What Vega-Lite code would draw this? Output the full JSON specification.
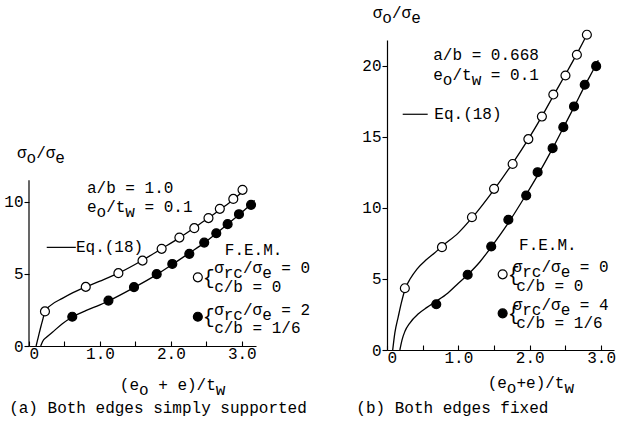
{
  "$schema": "https://vega.github.io/schema/vega-lite/v6.json",
  "padding": {"left": 3, "top": 5, "right": 5, "bottom": 3},
  "background": "white",
  "spacing": 131,
  "bounds": "flush",
  "config": {
    "view": {"stroke": null},
    "font": "Liberation Mono",
    "axis": {"labelFont": "Liberation Mono", "labelFontSize": 16, "labelColor": "black", "domainColor": "black", "tickColor": "black", "grid": false, "domainWidth": 1.2, "tickWidth": 1.1}
  },
  "datasets": {
    "curveL": [
      {"series": "open", "x": 0.10, "y": 0}, {"series": "open", "x": 0.13, "y": 0.6}, {"series": "open", "x": 0.165, "y": 1.3}, {"series": "open", "x": 0.2, "y": 1.95}, {"series": "open", "x": 0.225, "y": 2.4}, {"series": "open", "x": 0.3, "y": 2.8}, {"series": "open", "x": 0.47, "y": 3.3}, {"series": "open", "x": 0.62, "y": 3.7}, {"series": "open", "x": 0.8, "y": 4.1}, {"series": "open", "x": 1.0, "y": 4.5}, {"series": "open", "x": 1.26, "y": 5.05}, {"series": "open", "x": 1.6, "y": 5.95}, {"series": "open", "x": 1.87, "y": 6.75}, {"series": "open", "x": 2.12, "y": 7.5}, {"series": "open", "x": 2.33, "y": 8.2}, {"series": "open", "x": 2.53, "y": 8.87}, {"series": "open", "x": 2.69, "y": 9.45}, {"series": "open", "x": 2.88, "y": 10.15}, {"series": "open", "x": 3.02, "y": 10.75},
      {"series": "filled", "x": 0.165, "y": 0}, {"series": "filled", "x": 0.19, "y": 0.3}, {"series": "filled", "x": 0.25, "y": 0.62}, {"series": "filled", "x": 0.33, "y": 0.95}, {"series": "filled", "x": 0.47, "y": 1.55}, {"series": "filled", "x": 0.62, "y": 2.03}, {"series": "filled", "x": 0.8, "y": 2.45}, {"series": "filled", "x": 1.0, "y": 2.85}, {"series": "filled", "x": 1.12, "y": 3.12}, {"series": "filled", "x": 1.48, "y": 4.05}, {"series": "filled", "x": 1.8, "y": 4.95}, {"series": "filled", "x": 2.02, "y": 5.65}, {"series": "filled", "x": 2.26, "y": 6.45}, {"series": "filled", "x": 2.47, "y": 7.15}, {"series": "filled", "x": 2.64, "y": 7.8}, {"series": "filled", "x": 2.8, "y": 8.45}, {"series": "filled", "x": 2.96, "y": 9.1}, {"series": "filled", "x": 3.13, "y": 9.85}, {"series": "filled", "x": 3.18, "y": 10.1}
    ],
    "pointsL": [
      {"series": "open", "x": 0.225, "y": 2.4}, {"series": "open", "x": 0.80, "y": 4.1}, {"series": "open", "x": 1.26, "y": 5.05}, {"series": "open", "x": 1.60, "y": 5.92}, {"series": "open", "x": 1.87, "y": 6.74}, {"series": "open", "x": 2.12, "y": 7.52}, {"series": "open", "x": 2.33, "y": 8.17}, {"series": "open", "x": 2.53, "y": 8.87}, {"series": "open", "x": 2.69, "y": 9.51}, {"series": "open", "x": 2.88, "y": 10.2}, {"series": "open", "x": 3.01, "y": 10.83},
      {"series": "filled", "x": 0.61, "y": 2.03}, {"series": "filled", "x": 1.12, "y": 3.15}, {"series": "filled", "x": 1.48, "y": 4.08}, {"series": "filled", "x": 1.80, "y": 4.98}, {"series": "filled", "x": 2.02, "y": 5.69}, {"series": "filled", "x": 2.26, "y": 6.39}, {"series": "filled", "x": 2.47, "y": 7.17}, {"series": "filled", "x": 2.64, "y": 7.82}, {"series": "filled", "x": 2.80, "y": 8.45}, {"series": "filled", "x": 2.96, "y": 9.14}, {"series": "filled", "x": 3.13, "y": 9.79}
    ],
    "legendL": [{"series": "open", "x": 2.38, "y": 4.76}, {"series": "filled", "x": 2.38, "y": 2.03}],
    "braceL": [{"x": 2.45, "y": 4.75}, {"x": 2.45, "y": 2.0}],
    "eqL": [{"x": 0.25, "x2": 0.66, "y": 6.84}],
    "axisL": [{"x": 0, "y": 0, "y2": 11.5}],
    "textL": [
      {"x": 0.817, "y": 10.94, "main": "a/b\u00a0=\u00a01.0", "sub": ""},
      {"x": 0.817, "y": 9.62, "main": "e\u00a0/t\u00a0\u00a0=\u00a00.1", "sub": "\u200b\u00a0o\u00a0\u00a0w"},
      {"x": 0.662, "y": 6.84, "main": "Eq.(18)", "sub": ""},
      {"x": 2.76, "y": 6.66, "main": "F.E.M.", "sub": ""},
      {"x": 2.61, "y": 5.39, "main": "σ\u00a0\u00a0/σ\u00a0\u00a0=\u00a00", "sub": "\u200b\u00a0rc\u00a0\u00a0e"},
      {"x": 2.61, "y": 4.11, "main": "c/b\u00a0=\u00a00", "sub": ""},
      {"x": 2.61, "y": 2.50, "main": "σ\u00a0\u00a0/σ\u00a0\u00a0=\u00a02", "sub": "\u200b\u00a0rc\u00a0\u00a0e"},
      {"x": 2.61, "y": 1.23, "main": "c/b\u00a0=\u00a01/6", "sub": ""},
      {"x": -0.17, "y": 13.36, "main": "σ\u00a0/σ", "sub": "\u200b\u00a0o\u00a0\u00a0e"},
      {"x": 1.28, "y": -2.7, "main": "(e\u00a0\u00a0+\u00a0e)/t", "sub": "\u200b\u00a0\u00a0o\u00a0\u00a0\u00a0\u00a0\u00a0\u00a0\u00a0w"},
      {"x": -0.28, "y": -4.3, "main": "(a) Both edges simply supported", "sub": ""}
    ],
    "curveR": [
      {"series": "open", "x": 0.08, "y": 0}, {"series": "open", "x": 0.11, "y": 1.2}, {"series": "open", "x": 0.158, "y": 2.35}, {"series": "open", "x": 0.2, "y": 3.3}, {"series": "open", "x": 0.254, "y": 4.3}, {"series": "open", "x": 0.33, "y": 5.05}, {"series": "open", "x": 0.42, "y": 5.7}, {"series": "open", "x": 0.55, "y": 6.35}, {"series": "open", "x": 0.67, "y": 6.85}, {"series": "open", "x": 0.77, "y": 7.3}, {"series": "open", "x": 1.0, "y": 8.25}, {"series": "open", "x": 1.19, "y": 9.3}, {"series": "open", "x": 1.5, "y": 11.3}, {"series": "open", "x": 1.76, "y": 13.15}, {"series": "open", "x": 1.98, "y": 14.85}, {"series": "open", "x": 2.17, "y": 16.45}, {"series": "open", "x": 2.33, "y": 17.9}, {"series": "open", "x": 2.5, "y": 19.4}, {"series": "open", "x": 2.66, "y": 20.85}, {"series": "open", "x": 2.8, "y": 22.2}, {"series": "open", "x": 2.83, "y": 22.5},
      {"series": "filled", "x": 0.18, "y": 0}, {"series": "filled", "x": 0.21, "y": 0.7}, {"series": "filled", "x": 0.25, "y": 1.3}, {"series": "filled", "x": 0.32, "y": 1.9}, {"series": "filled", "x": 0.44, "y": 2.55}, {"series": "filled", "x": 0.56, "y": 3.0}, {"series": "filled", "x": 0.68, "y": 3.4}, {"series": "filled", "x": 0.85, "y": 4.0}, {"series": "filled", "x": 1.0, "y": 4.7}, {"series": "filled", "x": 1.13, "y": 5.3}, {"series": "filled", "x": 1.3, "y": 6.2}, {"series": "filled", "x": 1.46, "y": 7.25}, {"series": "filled", "x": 1.7, "y": 8.95}, {"series": "filled", "x": 1.95, "y": 10.95}, {"series": "filled", "x": 2.11, "y": 12.3}, {"series": "filled", "x": 2.32, "y": 14.2}, {"series": "filled", "x": 2.47, "y": 15.65}, {"series": "filled", "x": 2.62, "y": 17.1}, {"series": "filled", "x": 2.77, "y": 18.6}, {"series": "filled", "x": 2.93, "y": 20.1}, {"series": "filled", "x": 2.96, "y": 20.4}
    ],
    "pointsR": [
      {"series": "open", "x": 0.25, "y": 4.35}, {"series": "open", "x": 0.77, "y": 7.24}, {"series": "open", "x": 1.19, "y": 9.35}, {"series": "open", "x": 1.50, "y": 11.35}, {"series": "open", "x": 1.76, "y": 13.1}, {"series": "open", "x": 1.98, "y": 14.85}, {"series": "open", "x": 2.17, "y": 16.44}, {"series": "open", "x": 2.33, "y": 17.99}, {"series": "open", "x": 2.50, "y": 19.33}, {"series": "open", "x": 2.66, "y": 20.79}, {"series": "open", "x": 2.80, "y": 22.2},
      {"series": "filled", "x": 0.69, "y": 3.22}, {"series": "filled", "x": 1.13, "y": 5.30}, {"series": "filled", "x": 1.46, "y": 7.29}, {"series": "filled", "x": 1.70, "y": 9.17}, {"series": "filled", "x": 1.95, "y": 10.88}, {"series": "filled", "x": 2.11, "y": 12.52}, {"series": "filled", "x": 2.32, "y": 14.21}, {"series": "filled", "x": 2.47, "y": 15.69}, {"series": "filled", "x": 2.62, "y": 17.15}, {"series": "filled", "x": 2.77, "y": 18.68}, {"series": "filled", "x": 2.93, "y": 19.99}
    ],
    "legendR": [{"series": "open", "x": 1.62, "y": 5.33}, {"series": "filled", "x": 1.62, "y": 2.58}],
    "braceR": [{"x": 1.69, "y": 5.25}, {"x": 1.69, "y": 2.5}],
    "eqR": [{"x": 0.22, "x2": 0.57, "y": 16.6}],
    "textR": [
      {"x": 0.648, "y": 20.77, "main": "a/b\u00a0=\u00a00.668", "sub": ""},
      {"x": 0.648, "y": 19.37, "main": "e\u00a0/t\u00a0\u00a0=\u00a00.1", "sub": "\u200b\u00a0o\u00a0\u00a0w"},
      {"x": 0.663, "y": 16.6, "main": "Eq.(18)", "sub": ""},
      {"x": 1.85, "y": 7.39, "main": "F.E.M.", "sub": ""},
      {"x": 1.76, "y": 5.82, "main": "σ\u00a0\u00a0/σ\u00a0\u00a0=\u00a00", "sub": "\u200b\u00a0rc\u00a0\u00a0e"},
      {"x": 1.81, "y": 4.51, "main": "c/b\u00a0=\u00a00", "sub": ""},
      {"x": 1.76, "y": 3.17, "main": "σ\u00a0\u00a0/σ\u00a0\u00a0=\u00a04", "sub": "\u200b\u00a0rc\u00a0\u00a0e"},
      {"x": 1.81, "y": 1.88, "main": "c/b\u00a0=\u00a01/6", "sub": ""},
      {"x": -0.2, "y": 23.7, "main": "σ\u00a0/σ", "sub": "\u200b\u00a0o\u00a0\u00a0e"},
      {"x": 1.41, "y": -2.32, "main": "(e\u00a0+e)/t", "sub": "\u200b\u00a0\u00a0o\u00a0\u00a0\u00a0\u00a0\u00a0w"},
      {"x": -0.43, "y": -4.08, "main": "(b) Both edges fixed", "sub": ""}
    ]
  },
  "hconcat": [
    {
      "width": 227,
      "height": 306,
      "encoding": {
        "x": {"field": "x", "type": "quantitative", "scale": {"domain": [0, 3.2], "nice": false, "zero": false},
              "axis": {"title": null, "values": [0, 0.5, 1, 1.5, 2, 2.5, 3], "tickSize": -5, "labelPadding": 4, "labelExpr": "datum.value == 0 ? '0' : (datum.value % 1 == 0 ? format(datum.value, '.1f') : '')"}},
        "y": {"field": "y", "type": "quantitative", "scale": {"domain": [0, 21.22], "nice": false, "zero": false},
              "axis": {"title": null, "values": [0, 5, 10], "domain": false, "tickSize": 5, "labelPadding": 1, "labelFlush": false}}
      },
      "layer": [
        {"data": {"name": "curveL"}, "mark": {"type": "line", "interpolate": "monotone", "color": "black", "strokeWidth": 1.3}, "encoding": {"detail": {"field": "series", "type": "nominal"}}},
        {"data": {"name": "axisL"}, "mark": {"type": "rule", "color": "black", "strokeWidth": 1.2}, "encoding": {"y2": {"field": "y2"}}},
        {"data": {"name": "eqL"}, "mark": {"type": "rule", "color": "black", "strokeWidth": 1.2}, "encoding": {"x2": {"field": "x2"}}},
        {"data": {"name": "pointsL"}, "mark": {"type": "point", "shape": "circle", "filled": true, "size": 80, "stroke": "black", "strokeWidth": 1.2, "opacity": 1},
         "encoding": {"fill": {"field": "series", "type": "nominal", "scale": {"domain": ["open", "filled"], "range": ["white", "black"]}, "legend": null}}},
        {"data": {"name": "legendL"}, "mark": {"type": "point", "shape": "circle", "filled": true, "size": 80, "stroke": "black", "strokeWidth": 1.2, "opacity": 1},
         "encoding": {"fill": {"field": "series", "type": "nominal", "scale": {"domain": ["open", "filled"], "range": ["white", "black"]}, "legend": null}}},
        {"data": {"name": "braceL"}, "mark": {"type": "text", "text": "{", "font": "Liberation Mono", "fontSize": 20, "align": "left", "baseline": "middle", "color": "black"}},
        {"data": {"name": "textL"}, "mark": {"type": "text", "font": "Liberation Mono", "fontSize": 16, "align": "left", "baseline": "middle", "color": "black"}, "encoding": {"text": {"field": "main"}}},
        {"data": {"name": "textL"}, "mark": {"type": "text", "font": "Liberation Mono", "fontSize": 16, "align": "left", "baseline": "middle", "dy": 5, "color": "black"}, "encoding": {"text": {"field": "sub"}}}
      ]
    },
    {
      "width": 227,
      "height": 310,
      "encoding": {
        "x": {"field": "x", "type": "quantitative", "scale": {"domain": [0, 3.18], "nice": false, "zero": false},
              "axis": {"title": null, "values": [0, 0.5, 1, 1.5, 2, 2.5, 3], "tickSize": -5, "labelPadding": 4, "labelExpr": "datum.value == 0 ? '0' : (datum.value % 1 == 0 ? format(datum.value, '.1f') : '')"}},
        "y": {"field": "y", "type": "quantitative", "scale": {"domain": [0, 21.83], "nice": false, "zero": false},
              "axis": {"title": null, "values": [0, 5, 10, 15, 20], "tickSize": 5, "labelPadding": 1, "labelFlush": false}}
      },
      "layer": [
        {"data": {"name": "curveR"}, "mark": {"type": "line", "interpolate": "monotone", "color": "black", "strokeWidth": 1.3}, "encoding": {"detail": {"field": "series", "type": "nominal"}}},
        {"data": {"name": "eqR"}, "mark": {"type": "rule", "color": "black", "strokeWidth": 1.2}, "encoding": {"x2": {"field": "x2"}}},
        {"data": {"name": "pointsR"}, "mark": {"type": "point", "shape": "circle", "filled": true, "size": 80, "stroke": "black", "strokeWidth": 1.2, "opacity": 1},
         "encoding": {"fill": {"field": "series", "type": "nominal", "scale": {"domain": ["open", "filled"], "range": ["white", "black"]}, "legend": null}}},
        {"data": {"name": "legendR"}, "mark": {"type": "point", "shape": "circle", "filled": true, "size": 80, "stroke": "black", "strokeWidth": 1.2, "opacity": 1},
         "encoding": {"fill": {"field": "series", "type": "nominal", "scale": {"domain": ["open", "filled"], "range": ["white", "black"]}, "legend": null}}},
        {"data": {"name": "braceR"}, "mark": {"type": "text", "text": "{", "font": "Liberation Mono", "fontSize": 20, "align": "left", "baseline": "middle", "color": "black"}},
        {"data": {"name": "textR"}, "mark": {"type": "text", "font": "Liberation Mono", "fontSize": 16, "align": "left", "baseline": "middle", "color": "black"}, "encoding": {"text": {"field": "main"}}},
        {"data": {"name": "textR"}, "mark": {"type": "text", "font": "Liberation Mono", "fontSize": 16, "align": "left", "baseline": "middle", "dy": 5, "color": "black"}, "encoding": {"text": {"field": "sub"}}}
      ]
    }
  ]
}
